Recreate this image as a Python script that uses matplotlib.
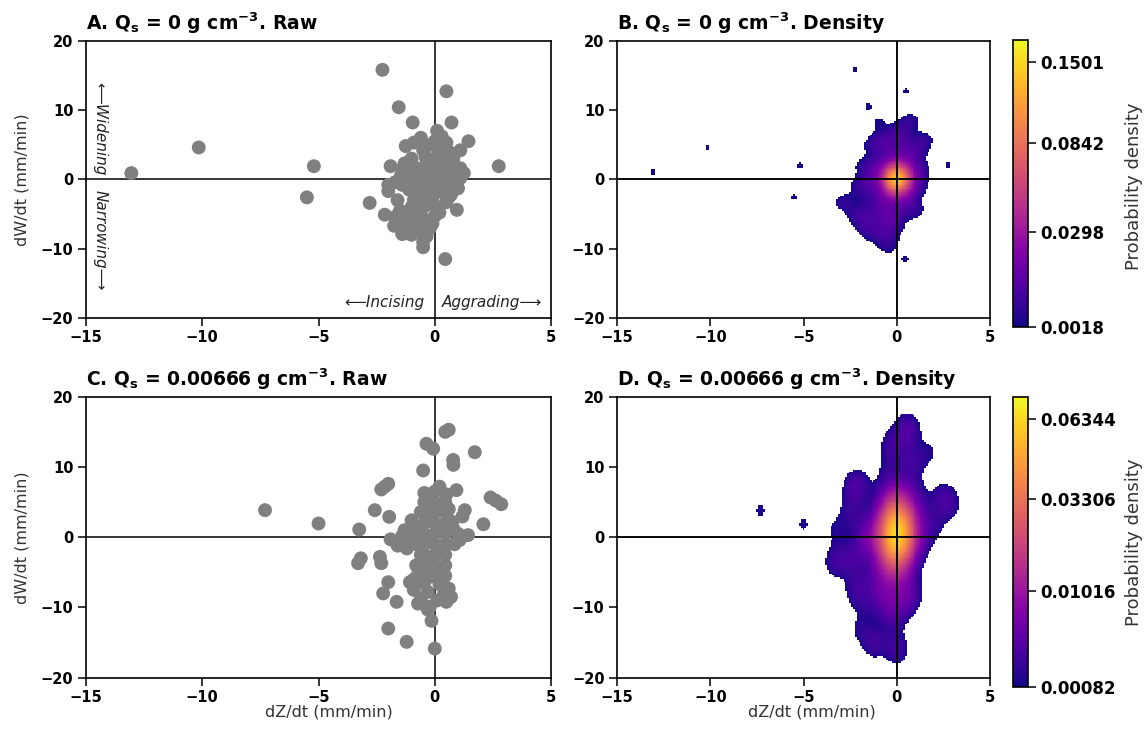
import numpy as np
import matplotlib
matplotlib.use("Agg")
import matplotlib.pyplot as plt
import matplotlib.colors as mcolors

plt.rcParams['font.family'] = 'DejaVu Sans'
plt.rcParams['mathtext.fontset'] = 'dejavusans'

# =========================
# data: Qs = 0 (panels A, B)
# n = number of overlapping observations at each marker
# =========================
a_x = [0.0, -0.4, 0.4, 0.0, 0.0, -0.4, 0.4, -0.4, 0.4, 0.0, 0.0, -0.4, 0.4, -0.4, 0.4, 0.0, -0.1,
       0.72, 0.1, -0.6, -1.25, 0.5, 1.45, 1.1, -0.5, 0.8, -1.0, 1.1, -0.9, -1.9,
       1.1, -1.1, -1.7, 1.0, -1.1, -2.0,
       0.95, 0.5, -0.9, -2.8, -2.15, -1.5, -0.6, 0.2, -0.3, -1.75, -1.4, -0.9, -0.35, -0.5,
       0.75, 0.8, 0.7, 1.25, -0.75, -0.75, -1.45, -1.4, -1.4, -0.7, 0.15, 0.0, 0.3,
       0.45, -0.9, -0.4, 0.1, -0.2, -0.6, 0.6, -0.4,
       -0.3, 0.6, -1.3, -1.3, -2.0, 0.75, 0.7, -1.6, -0.5, -1.0,
       -1.7, -1.1, -0.6, 0.0, -1.2, -0.1, -0.55, -1.0, -0.5,
       -13.05, -10.15, -5.2, -5.5, -2.25, 0.5, 2.75, 0.45, -1.55, -0.95]
a_y = [0.0, 0.0, 0.1, 1.0, -1.0, 1.0, 1.1, -1.0, -0.9, 2.0, -2.0, 2.0, 2.1, -2.0, -2.0, 3.0, -3.1,
       8.2, 7.0, 6.0, 4.8, 5.3, 5.5, 4.2, 4.2, 3.0, 3.0, 1.6, 1.8, 1.9,
       0.2, 0.4, -0.4, -1.3, -1.5, -1.7,
       -4.4, -3.3, -3.0, -3.4, -5.1, -4.5, -4.5, -4.8, -5.9, -6.7, -7.9, -7.0, -8.2, -9.8,
       0.7, -0.4, 1.8, 0.9, -0.4, 1.0, 0.6, 1.5, -0.8, -2.2, 4.0, 5.5, 6.2,
       3.4, 5.3, -3.8, -4.0, -7.0, -6.2, -2.6, 3.2,
       4.9, 4.0, 2.3, -0.2, -0.8, -1.5, -2.2, -3.0, -3.0, -4.0,
       -5.4, -5.3, -5.2, -5.3, -6.3, -6.4, -7.6, -8.0, -9.0,
       0.9, 4.6, 1.9, -2.6, 15.8, 12.7, 1.9, -11.5, 10.4, 8.2]
a_n = [32, 13, 13, 13, 13, 8, 8, 8, 8, 6, 6, 3, 3, 3, 3, 2, 2,
       2, 2, 2, 2, 2, 2, 2, 2, 2, 1, 2, 2, 1,
       2, 2, 1, 2, 2, 1,
       2, 2, 2, 2, 2, 1, 2, 1, 2, 2, 1, 1, 1, 1,
       1, 1, 1, 1, 1, 1, 1, 1, 1, 1, 1, 1, 1,
       1, 1, 1, 1, 1, 1, 1, 1,
       1, 1, 1, 1, 1, 1, 1, 1, 1, 1,
       1, 1, 1, 1, 1, 1, 1, 1, 1,
       1, 1, 1, 1, 1, 1, 1, 1, 1, 1]

# =========================
# data: Qs = 0.00666 (panels C, D)
# =========================
c_x = [0.0, 0.0, 0.0, 0.0, 0.0, 0.0, 0.0, 0.0, 0.0,
       -0.45, -0.45, -0.45, -0.45, -0.45, -0.45, -0.45,
       0.45, 0.45, 0.45, 0.45, 0.45, 0.45, 0.45,
       0.6, 0.45, -0.36, -0.07, 1.72, 0.79, 0.8, -0.5,
       -2.15, -2.0, -2.3, -2.58, -1.96, -3.25,
       0.93, 1.29, 1.19, 2.4, 2.63, 2.86, 2.09, 1.43, 1.07,
       -3.18, -3.3, -2.36, -2.3, -2.0, -2.22, -1.64,
       -2.0, -1.21, 0.0, -0.14, -1.07, -0.72, -0.21, 0.5,
       0.2, -0.3, 0.6, -0.6, -0.9, 0.8, -1.9, -1.4, -1.6, -0.8, -0.8, -0.6,
       -0.7, -0.2, 0.2, -0.9, -0.3, 0.4, -0.6, 0.1,
       -0.22, 0.22, -0.22, 0.22, -0.22, 0.22, -0.22, 0.22,
       -1.2, -0.45, -0.3, 1.0, 0.75, -1.3,
       -1.5, -1.2, 0.85, 0.5, -0.8, -0.9, 0.6, 0.7, -1.0, -0.6, 0.45, -0.45,
       -7.3, -5.0]
c_y = [-5.5, -4.0, -2.5, -1.0, 0.5, 2.0, 3.5, 5.0, 6.5,
       -4.0, -2.5, -1.0, 0.5, 2.0, 3.5, 5.0,
       -4.0, -2.5, -1.0, 0.5, 2.0, 3.5, 5.0,
       15.3, 15.0, 13.3, 12.6, 12.1, 11.0, 10.3, 9.5,
       7.2, 7.6, 6.8, 3.85, 2.9, 1.1,
       6.7, 3.85, 2.95, 5.65, 5.2, 4.7, 1.85, 0.3, -0.4,
       -3.0, -3.7, -2.8, -3.7, -6.4, -8.0, -9.2,
       -13.0, -14.9, -15.85, -11.9, -6.4, -9.45, -9.9, -9.2,
       7.2, 4.8, 4.0, 3.6, 1.5, 1.2, -0.3, 0.2, -1.2, 0.4, -1.0, -2.5,
       -5.0, -5.6, -6.7, -7.5, -7.8, -8.0, -8.8, -9.0,
       5.8, 4.3, 2.8, 1.3, -0.2, -1.7, -3.2, -4.7,
       -0.5, -6.5, -10.3, 0.5, 2.2, 1.0,
       -0.6, -1.6, -1.0, 6.1, -4.0, -6.0, -7.3, -8.5, 2.4, -3.5, -5.5, 6.3,
       3.85, 1.95]
c_n = [1, 4, 9, 15, 18, 15, 9, 4, 1,
       2, 5, 8, 9, 8, 4, 2,
       2, 4, 8, 9, 8, 5, 2,
       2, 1, 1, 1, 1, 1, 1, 1,
       1, 1, 1, 1, 1, 1,
       1, 1, 1, 1, 1, 1, 1, 1, 1,
       1, 1, 1, 1, 1, 1, 1,
       1, 2, 2, 1, 1, 1, 1, 1,
       1, 1, 1, 1, 1, 1, 1, 1, 1, 1, 1, 1,
       1, 1, 1, 1, 1, 1, 1, 1,
       1, 1, 1, 1, 1, 1, 1, 1,
       1, 1, 1, 1, 1, 1,
       1, 1, 1, 1, 1, 1, 1, 1, 1, 1, 1, 1,
       1, 1]

# colour scale
b_ticks = [0.0018, 0.0298, 0.0842, 0.1501]
b_ticklabels = ['0.0018', '0.0298', '0.0842', '0.1501']
d_ticks = [0.00082, 0.01016, 0.03306, 0.06344]
d_ticklabels = ['0.00082', '0.01016', '0.03306', '0.06344']

titles = [r'A. $\mathbf{Q_s}$ = 0 g cm$^{\mathbf{-3}}$. Raw',
          r'B. $\mathbf{Q_s}$ = 0 g cm$^{\mathbf{-3}}$. Density',
          r'C. $\mathbf{Q_s}$ = 0.00666 g cm$^{\mathbf{-3}}$. Raw',
          r'D. $\mathbf{Q_s}$ = 0.00666 g cm$^{\mathbf{-3}}$. Density']


def kde(x, y, n, hx, hy, gx, gy):
    # weighted gaussian kernel density on a grid (separable kernel)
    x, y, n = np.asarray(x), np.asarray(y), np.asarray(n, float)
    kx = np.exp(-0.5 * ((gx[None, :] - x[:, None]) / hx) ** 2)
    ky = np.exp(-0.5 * ((gy[None, :] - y[:, None]) / hy) ** 2)
    dens = (ky * n[:, None]).T @ kx
    return dens / (n.sum() * 2 * np.pi * hx * hy)


def style_axes(ax, title):
    ax.set_xlim(-15, 5)
    ax.set_ylim(-20, 20)
    ax.set_xticks([-15, -10, -5, 0, 5])
    ax.set_yticks([-20, -10, 0, 10, 20])
    ax.tick_params(labelsize=10.5, width=1.1, length=6, pad=3, direction='out')
    for lbl in ax.get_xticklabels() + ax.get_yticklabels():
        lbl.set_fontweight('bold')
    for sp in ax.spines.values():
        sp.set_linewidth(1.2)
    ax.axhline(0, color='black', lw=1.1, zorder=1)
    ax.axvline(0, color='black', lw=1.1, zorder=1)
    ax.set_title(title, loc='left', fontsize=13.5, fontweight='bold', pad=8)


def raw_panel(ax, x, y, title):
    ax.scatter(x, y, s=100, color='#808080', edgecolors='none', zorder=2)
    style_axes(ax, title)


def density_panel(fig, ax, cax, x, y, n, hx, hy, gamma, vmin, vmax, ticks, ticklabels, title):
    gx = np.arange(-15, 5.0001, 0.1)
    gy = np.arange(-20, 20.0001, 0.25)
    dens = kde(x, y, n, hx, hy, gx, gy)
    dens = np.ma.masked_less(dens, vmin)
    norm = mcolors.PowerNorm(gamma=gamma, vmin=vmin, vmax=vmax)
    im = ax.imshow(dens, origin='lower', cmap='plasma', norm=norm, aspect='auto',
                   interpolation='nearest',
                   extent=[gx[0] - 0.05, gx[-1] + 0.05, gy[0] - 0.125, gy[-1] + 0.125],
                   zorder=0)
    style_axes(ax, title)
    ax.axhline(0, color='black', lw=1.1, zorder=3)
    ax.axvline(0, color='black', lw=1.1, zorder=3)
    cb = fig.colorbar(im, cax=cax)
    cb.set_ticks(ticks)
    cb.set_ticklabels(ticklabels)
    cb.ax.tick_params(labelsize=12, width=1.1, length=6, pad=2.5)
    for lbl in cb.ax.get_yticklabels():
        lbl.set_fontweight('bold')
    cb.outline.set_linewidth(1.2)
    cb.ax.minorticks_off()
    return cb


fig = plt.figure(figsize=(11.48, 7.31), dpi=100)

axA = fig.add_axes([0.0749, 0.5650, 0.4051, 0.3793])
axB = fig.add_axes([0.5375, 0.5650, 0.3249, 0.3793])
axC = fig.add_axes([0.0749, 0.0729, 0.4051, 0.3844])
axD = fig.add_axes([0.5375, 0.0729, 0.3249, 0.3844])
caxB = fig.add_axes([0.8824, 0.5531, 0.0131, 0.3922])
caxD = fig.add_axes([0.8824, 0.0606, 0.0131, 0.3967])

raw_panel(axA, a_x, a_y, titles[0])
raw_panel(axC, c_x, c_y, titles[2])

density_panel(fig, axB, caxB, a_x, a_y, a_n, 0.36, 0.9, 0.62, 0.0018, 0.1703,
              b_ticks, b_ticklabels, titles[1])
density_panel(fig, axD, caxD, c_x, c_y, c_n, 0.45, 1.6, 0.54, 0.00082, 0.0732,
              d_ticks, d_ticklabels, titles[3])

# axis labels
lab_color = '#333333'
for ax in (axA, axC):
    ax.set_ylabel('dW/dt (mm/min)', fontsize=11.5, color=lab_color)
    ax.yaxis.set_label_coords(-0.122, 0.5)
axC.set_xlabel('dZ/dt (mm/min)', fontsize=11.5, color=lab_color)
axC.xaxis.set_label_coords(0.5226, -0.095)
axD.set_xlabel('dZ/dt (mm/min)', fontsize=11.5, color=lab_color)
axD.xaxis.set_label_coords(0.523, -0.095)

fig.text(1134 / 1148, 0.745, 'Probability density', rotation=90, fontsize=13,
         color=lab_color, ha='center', va='center')
fig.text(1134 / 1148, 0.258, 'Probability density', rotation=90, fontsize=13,
         color=lab_color, ha='center', va='center')

# direction hints in panel A
axA.text(-0.44, -17.8, '\u27f5Incising', style='italic', fontsize=11,
         ha='right', va='center', color='#222222')
axA.text(0.29, -17.8, 'Aggrading\u27f6', style='italic', fontsize=11,
         ha='left', va='center', color='#222222')
axA.text(-14.4, 0.6, '\u27f5Widening', style='italic', fontsize=11, rotation=-90,
         ha='center', va='bottom', color='#222222')
axA.text(-14.4, -1.5, 'Narrowing\u27f6', style='italic', fontsize=11, rotation=-90,
         ha='center', va='top', color='#222222')

plt.savefig('out.png', dpi=100)
plt.close()
